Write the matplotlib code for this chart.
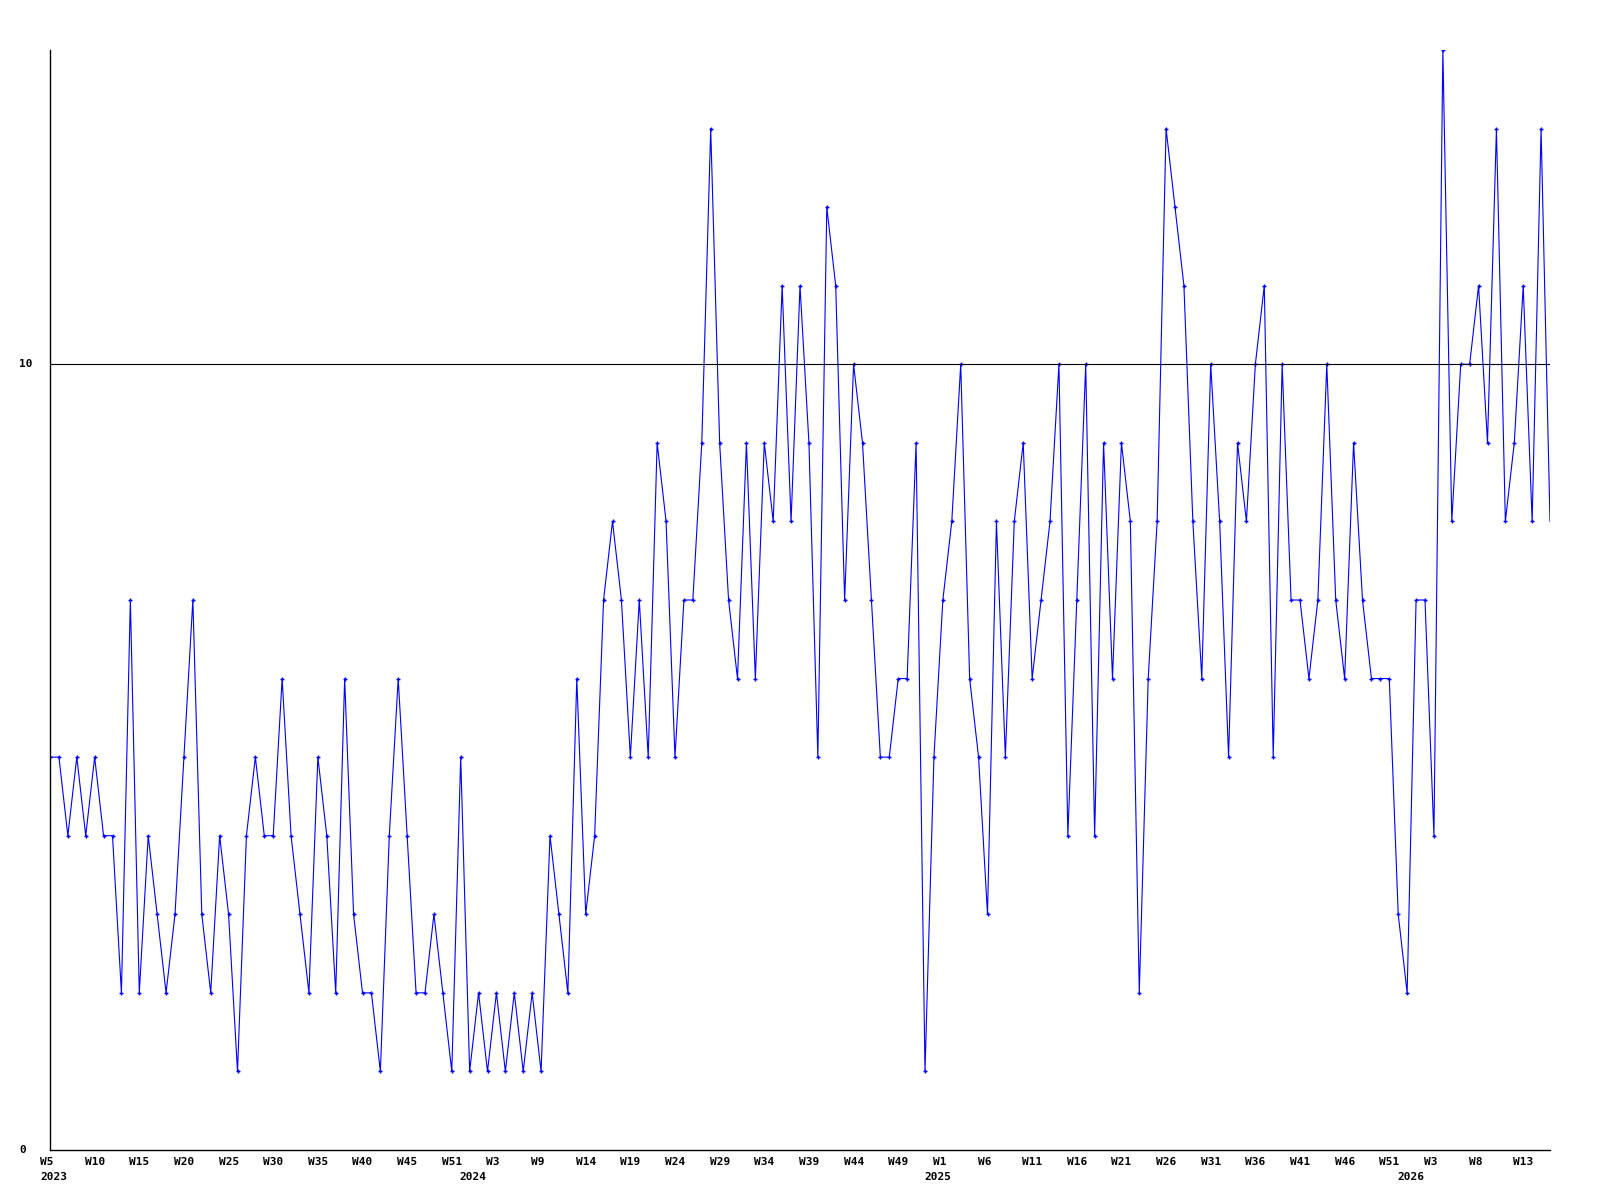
import numpy as np
import matplotlib
matplotlib.use("Agg")
import matplotlib.pyplot as plt
import matplotlib.transforms as mtransforms

# weekly values, 2023 W5 .. 2026 W17
vals_2023 = [5, 5, 4, 5, 4, 5, 4, 4, 2, 7, 2, 4, 3, 2, 3, 5, 7, 3, 2, 4,
             3, 1, 4, 5, 4, 4, 6, 4, 3, 2, 5, 4, 2, 6, 3, 2, 2, 1, 4, 6,
             4, 2, 2, 3, 2, 1, 5, 1]
vals_2024 = [2, 1, 2, 1, 2, 1, 2, 1, 4, 3, 2, 6, 3, 4, 7, 8, 7, 5, 7, 5,
             9, 8, 5, 7, 7, 9, 13, 9, 7, 6, 9, 6, 9, 8, 11, 8, 11, 9, 5, 12,
             11, 7, 10, 9, 7, 5, 5, 6, 6, 9, 1, 5]
vals_2025 = [7, 8, 10, 6, 5, 3, 8, 5, 8, 9, 6, 7, 8, 10, 4, 7, 10, 4, 9, 6,
             9, 8, 2, 6, 8, 13, 12, 11, 8, 6, 10, 8, 5, 9, 8, 10, 11, 5, 10, 7,
             7, 6, 7, 10, 7, 6, 9, 7, 6, 6, 6, 3]
vals_2026 = [2, 7, 7, 4, 14, 8, 10, 10, 11, 9, 13, 8, 9, 11, 8, 13, 8]

week_labels = ["W5", "W10", "W15", "W20", "W25", "W30", "W35", "W40", "W45",
               "W51", "W3", "W9", "W14", "W19", "W24", "W29", "W34", "W39",
               "W44", "W49", "W1", "W6", "W11", "W16", "W21", "W26", "W31",
               "W36", "W41", "W46", "W51", "W3", "W8", "W13"]
label_step = 5
year_labels = ["2023", "2024", "2025", "2026"]
year_pos = [0, 47, 99, 152]
y_ticks = [0, 10]

values = np.array(vals_2023 + vals_2024 + vals_2025 + vals_2026)
x = np.arange(len(values))

fig = plt.figure(figsize=(16, 12), dpi=100)
ax = fig.add_axes([50 / 1600, 50 / 1200, 1500 / 1600, 1100 / 1200])

ax.plot(x, values, color="#0000ff", lw=0.8, marker="+", ms=3.5, mew=1.0,
        markevery=list(range(len(values) - 1)))
ax.axhline(10, color="black", lw=0.8)

ax.set_xlim(0, len(values) - 1)
ax.set_ylim(0, 14)
for s in ["top", "right"]:
    ax.spines[s].set_visible(False)
ax.spines["left"].set_linewidth(1.0)
ax.spines["bottom"].set_linewidth(1.0)
ax.set_xticks([])
ax.set_yticks([])

font = dict(family="DejaVu Sans Mono", fontweight="bold", fontsize=8)

# x labels, left edge ~10px left of the point
base = mtransforms.blended_transform_factory(ax.transData, ax.transAxes)
shift = mtransforms.ScaledTranslation(-10 / 100, 0, fig.dpi_scale_trans)
for i, lab in enumerate(week_labels):
    ax.text(i * label_step, 0, lab, transform=base + shift + mtransforms.ScaledTranslation(0, -11.7 / 100, fig.dpi_scale_trans),
            ha="left", va="center", **font)
for p, lab in zip(year_pos, year_labels):
    ax.text(p, 0, lab, transform=base + shift + mtransforms.ScaledTranslation(0, -26.7 / 100, fig.dpi_scale_trans),
            ha="left", va="center", **font)

# y labels, left aligned near the figure edge
yb = mtransforms.blended_transform_factory(fig.transFigure, ax.transData)
for t in y_ticks:
    ax.text(19.5 / 1600, t, str(t), transform=yb, ha="left", va="center", **font)

fig.savefig("out.png", dpi=100)
